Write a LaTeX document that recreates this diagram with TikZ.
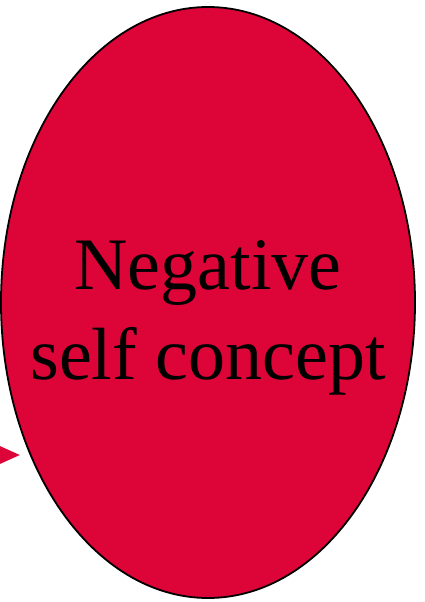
\documentclass[tikz,border=0pt]{standalone}
\usepackage{fontspec}
\setmainfont{Liberation Serif}
\usetikzlibrary{shapes.geometric, arrows.meta}
\definecolor{ConceptRed}{RGB}{221,4,56}
\tikzset{
  concept/.style={ellipse, draw=black, line width=1.8pt, fill=ConceptRed,
    minimum width=414pt, minimum height=591pt, inner sep=0pt},
  conceptlabel/.style={align=center, inner sep=0pt, font=\fontsize{74}{90}\selectfont},
  linkarrow/.style={-{Triangle[length=20pt, width=17pt]}, line width=3pt, ConceptRed},
}
\begin{document}
\begin{tikzpicture}[x=1pt, y=-1pt]
  \useasboundingbox (0,0) rectangle (424,602);
  \node[concept] (neg) at (208,302.5) {};
  \node[conceptlabel] (negtext) at (208,318) {Negative\\self concept};
  \coordinate (src) at (-60,455);
  \coordinate (tip) at (20,455);
  \draw[linkarrow] (src) -- (tip);
\end{tikzpicture}
\end{document}
